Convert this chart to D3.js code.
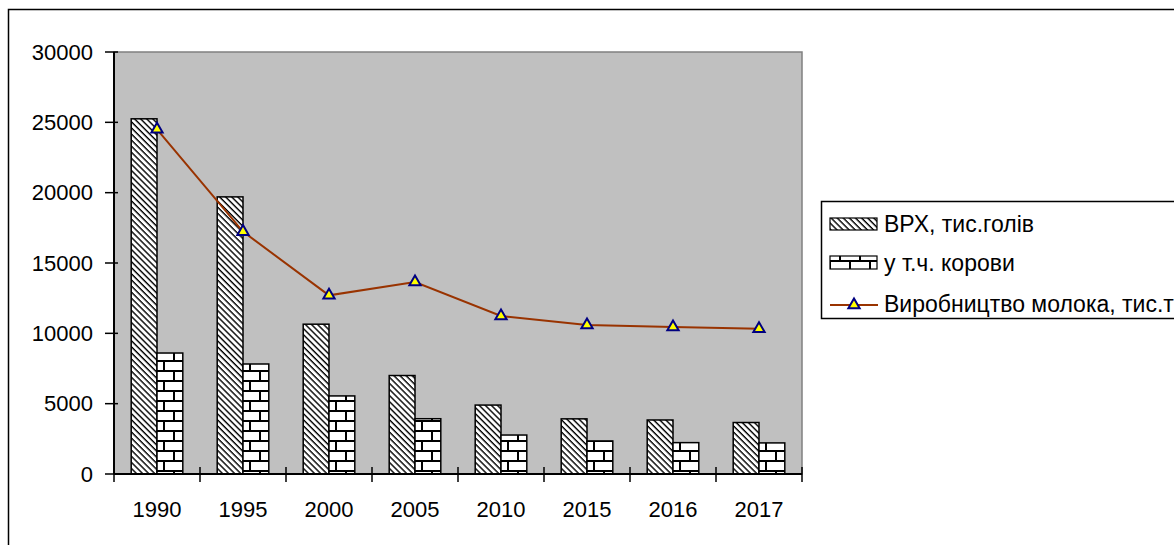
<!DOCTYPE html>
<html>
<head>
<meta charset="utf-8">
<script src="https://cdn.jsdelivr.net/npm/d3@7"></script>
<style>
  body { margin: 0; background: #fff; }
  text { font-family: "Liberation Sans", Arial, sans-serif; fill: #000; }
</style>
</head>
<body>
<div id="svg"></div>
<script>
let years = ['1990', '1995', '2000', '2005', '2010', '2015', '2016', '2017'];
let herd  = [25250, 19700, 10650, 7000, 4900, 3920, 3840, 3660];
let cows  = [8600, 7820, 5550, 3930, 2770, 2350, 2230, 2210];
let milk  = [24500, 17230, 12700, 13650, 11230, 10600, 10450, 10320];
let yTicks = [0, 5000, 10000, 15000, 20000, 25000, 30000];
let seriesNames = ['ВРХ, тис.голів', 'у т.ч. корови', 'Виробництво молока, тис.т'];

function makeGraph() {
    let w = 1174, h = 545;
    let left = 114, right = 802, top = 52, bottom = 474;

    let svg = d3.select('#svg')
        .append('svg')
        .attr('width', w)
        .attr('height', h);

    let defs = svg.append('defs');

    // diagonal hatch (\\\)
    let hatch = defs.append('pattern')
        .attr('id', 'hatch')
        .attr('patternUnits', 'userSpaceOnUse')
        .attr('width', 4.3).attr('height', 4.3)
        .attr('patternTransform', 'rotate(45)');
    hatch.append('rect').attr('width', 4.3).attr('height', 4.3).attr('fill', '#fff');
    hatch.append('rect').attr('width', 4.3).attr('height', 1.4).attr('fill', '#000');

    // bricks
    let brick = defs.append('pattern')
        .attr('id', 'brick')
        .attr('patternUnits', 'userSpaceOnUse')
        .attr('width', 20).attr('height', 20);
    brick.append('rect').attr('width', 20).attr('height', 20).attr('fill', '#fff');
    brick.append('path')
        .attr('d', 'M0,1H20M0,11H20M10,1V11M0,11V21M20,11V21')
        .attr('stroke', '#000').attr('stroke-width', 2).attr('fill', 'none');

    // outer frame
    svg.append('rect')
        .attr('x', 8.5).attr('y', 9.5)
        .attr('width', 1200).attr('height', 600)
        .attr('fill', 'none').attr('stroke', '#000').attr('stroke-width', 1.5);

    let xScale = d3.scaleBand()
        .domain(years)
        .range([left, right])
        .padding(0);

    let inner = d3.scaleBand()
        .domain(['herd', 'cows'])
        .range([xScale.bandwidth() * 0.2, xScale.bandwidth() * 0.8]);

    let yScale = d3.scaleLinear()
        .domain([0, 30000])
        .range([bottom, top]);

    // plot area
    svg.append('rect')
        .attr('x', left).attr('y', top)
        .attr('width', right - left).attr('height', bottom - top)
        .attr('fill', '#c0c0c0')
        .attr('stroke', '#808080').attr('stroke-width', 1.5);

    let groups = svg.selectAll('.grp')
        .data(years)
        .enter()
        .append('g')
        .attr('transform', d => `translate(${xScale(d)},0)`);

    groups.append('rect')
        .attr('x', inner('herd'))
        .attr('y', (d, i) => yScale(herd[i]))
        .attr('width', inner.bandwidth())
        .attr('height', (d, i) => yScale(0) - yScale(herd[i]))
        .attr('fill', 'url(#hatch)')
        .attr('stroke', '#000').attr('stroke-width', 1.5);

    groups.append('rect')
        .attr('x', inner('cows'))
        .attr('y', (d, i) => yScale(cows[i]))
        .attr('width', inner.bandwidth())
        .attr('height', (d, i) => yScale(0) - yScale(cows[i]))
        .attr('fill', 'url(#brick)')
        .attr('stroke', '#000').attr('stroke-width', 1.5);

    // milk line
    let line = d3.line()
        .x((d, i) => xScale(years[i]) + xScale.bandwidth() / 2)
        .y(d => yScale(d));

    svg.append('path')
        .datum(milk)
        .attr('d', line)
        .attr('fill', 'none')
        .attr('stroke', '#993300')
        .attr('stroke-width', 2);

    let tri = d3.symbol().type(d3.symbolTriangle).size(55);

    svg.selectAll('.marker')
        .data(milk)
        .enter()
        .append('path')
        .attr('d', tri)
        .attr('transform', (d, i) => `translate(${xScale(years[i]) + xScale.bandwidth() / 2},${yScale(d)})`)
        .attr('fill', '#ffff00')
        .attr('stroke', '#000080')
        .attr('stroke-width', 2);

    // axes
    let xAxis = d3.axisBottom(xScale).tickSize(0).tickPadding(27);
    let xAxisGroup = svg.append('g')
        .attr('transform', `translate(0, ${bottom})`)
        .call(xAxis);
    xAxisGroup.select('.domain').remove();
    xAxisGroup.selectAll('text').style('font-size', '22px');

    svg.append('line')
        .attr('x1', left).attr('x2', right)
        .attr('y1', bottom).attr('y2', bottom)
        .attr('stroke', '#000').attr('stroke-width', 2);

    svg.selectAll('.xtick')
        .data(years.concat(['end']))
        .enter()
        .append('line')
        .attr('x1', (d, i) => i < years.length ? xScale(d) : right)
        .attr('x2', (d, i) => i < years.length ? xScale(d) : right)
        .attr('y1', bottom - 7).attr('y2', bottom + 8)
        .attr('stroke', '#000').attr('stroke-width', 1.5);

    let yAxis = d3.axisLeft(yScale)
        .tickValues(yTicks)
        .tickFormat(d3.format('d'))
        .tickSize(0)
        .tickPadding(21);
    let yAxisGroup = svg.append('g')
        .attr('transform', `translate(${left}, 0)`)
        .call(yAxis);
    yAxisGroup.select('.domain').remove();
    yAxisGroup.selectAll('text').style('font-size', '22px');

    svg.append('line')
        .attr('x1', left).attr('x2', left)
        .attr('y1', top).attr('y2', bottom)
        .attr('stroke', '#000').attr('stroke-width', 2);

    svg.selectAll('.ytick')
        .data(yTicks)
        .enter()
        .append('line')
        .attr('x1', left - 9).attr('x2', left + 4)
        .attr('y1', d => yScale(d)).attr('y2', d => yScale(d))
        .attr('stroke', '#000').attr('stroke-width', 1.5);

    // legend
    let lg = svg.append('g');
    lg.append('rect')
        .attr('x', 821.5).attr('y', 201.5)
        .attr('width', 400).attr('height', 117)
        .attr('fill', '#fff')
        .attr('stroke', '#000').attr('stroke-width', 1.5);

    let rowY = [224, 263, 304];
    lg.append('rect')
        .attr('x', 830).attr('y', rowY[0] - 6)
        .attr('width', 47).attr('height', 12)
        .attr('fill', 'url(#hatch)')
        .attr('stroke', '#000').attr('stroke-width', 1.2);
    lg.append('rect')
        .attr('x', 830).attr('y', rowY[1] - 7)
        .attr('width', 47).attr('height', 13)
        .attr('fill', 'url(#brick)')
        .attr('stroke', '#000').attr('stroke-width', 1.2);
    lg.append('line')
        .attr('x1', 830).attr('x2', 878)
        .attr('y1', rowY[2] + 1).attr('y2', rowY[2] + 1)
        .attr('stroke', '#993300').attr('stroke-width', 2);
    lg.append('path')
        .attr('d', tri)
        .attr('transform', `translate(854,${rowY[2] + 1})`)
        .attr('fill', '#ffff00')
        .attr('stroke', '#000080')
        .attr('stroke-width', 2);

    lg.selectAll('.lt')
        .data(seriesNames)
        .enter()
        .append('text')
        .attr('x', 884)
        .attr('y', (d, i) => rowY[i] + 8)
        .style('font-size', '23px')
        .text(d => d);
}

window.onload = () => {
    makeGraph();
}
</script>
</body>
</html>
